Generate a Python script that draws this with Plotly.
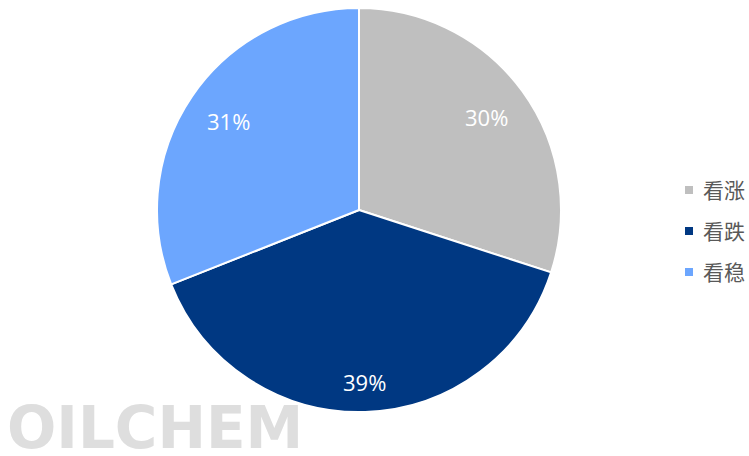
import math
import plotly.graph_objects as go

labels = ["看涨", "看跌", "看稳"]
values = [30, 39, 31]
colors = ["#BFBFBF", "#003882", "#6CA6FE"]
label_radius = [0.78, 0.85, 0.78]

W, H = 749, 456


def px(x):
    return x / W


def py(y):
    return 1 - y / H


cx_px, cy_px, R_px = 359, 210, 202
dom_x = [px(cx_px - R_px), px(cx_px + R_px)]
dom_y = [py(cy_px + R_px), py(cy_px - R_px)]

fig = go.Figure()
fig.add_trace(go.Pie(
    labels=labels, values=values, sort=False, direction="clockwise", rotation=0,
    marker=dict(colors=colors, line=dict(color="white", width=2)),
    textinfo="none", hoverinfo="label+percent", showlegend=False,
    domain=dict(x=dom_x, y=dom_y),
))

annotations = []
total = sum(values)
cum = 0
for v, rf in zip(values, label_radius):
    mid = (cum + v / 2) / total * 2 * math.pi
    cum += v
    x = cx_px + math.sin(mid) * rf * R_px
    y = cy_px - math.cos(mid) * rf * R_px
    annotations.append(dict(
        x=px(x), y=py(y), xref="paper", yref="paper", showarrow=False,
        text=f"{round(v / total * 100)}%", font=dict(size=22, color="white", family="Open Sans"),
        xanchor="center", yanchor="middle",
    ))

# legend (manual)
shapes = []
leg_y0 = 190
leg_gap = 41
for i, (lab, col) in enumerate(zip(labels, colors)):
    yc = leg_y0 + i * leg_gap
    shapes.append(dict(type="rect", xref="paper", yref="paper",
                       x0=px(685), x1=px(693), y0=py(yc + 4), y1=py(yc - 4),
                       fillcolor=col, line=dict(width=0)))
    annotations.append(dict(x=px(701), y=py(yc - 1), xref="paper", yref="paper", showarrow=False,
                            text=lab, xanchor="left", yanchor="middle",
                            font=dict(size=21, color="#595959", family="Noto Sans CJK SC")))

# watermark
annotations.append(dict(x=px(5), y=py(428), xref="paper", yref="paper", showarrow=False,
                        text="OILCHEM", xanchor="left", yanchor="middle",
                        font=dict(size=58, color="#DEDEDE", family="DejaVu Sans", weight=700)))

fig.update_layout(
    width=W, height=H, margin=dict(l=0, r=0, t=0, b=0),
    paper_bgcolor="white", plot_bgcolor="white",
    annotations=annotations, shapes=shapes,
)
fig.write_html("out.html", config={"displayModeBar": False},
               post_script="document.body.style.margin='0';document.body.style.overflow='hidden';")
